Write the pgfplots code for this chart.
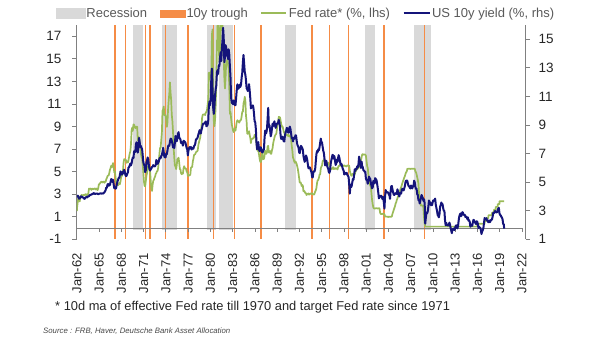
\documentclass[border=0pt]{standalone}
\usepackage{fontspec}
\setmainfont{Liberation Sans}
\usepackage{pgfplots}
\pgfplotsset{compat=1.18}
\definecolor{recgray}{HTML}{D9D9D9}
\definecolor{trough}{HTML}{F58C46}
\definecolor{fedgreen}{HTML}{9BBB59}
\definecolor{navyline}{HTML}{14147A}
\definecolor{axgray}{HTML}{808080}
\definecolor{txt}{HTML}{262626}
\definecolor{legtxt}{HTML}{595959}
\begin{document}
\begin{tikzpicture}
\path[use as bounding box] (0pt,0pt) rectangle (605pt,341pt);
\begin{axis}[
  at={(76.5pt,101.7pt)}, anchor=south west,
  scale only axis, width=449.2pt, height=214.3pt,
  xmin=1961.95, xmax=2022.5, ymin=-1, ymax=18,
  axis y line*=left, axis x line*=bottom,
  axis line style={axgray, line width=0.8pt, -},
  x axis line style={draw=none},
  xtick={1962,1965,1968,1971,1974,1977,1980,1983,1986,1989,1992,1995,1998,2001,2004,2007,2010,2013,2016,2019,2022},
  xticklabels={Jan-62,Jan-65,Jan-68,Jan-71,Jan-74,Jan-77,Jan-80,Jan-83,Jan-86,Jan-89,Jan-92,Jan-95,Jan-98,Jan-01,Jan-04,Jan-07,Jan-10,Jan-13,Jan-16,Jan-19,Jan-22},
  xtick style={draw=none},
  xticklabel style={rotate=90, anchor=east, font=\fontsize{13}{13}\selectfont, text=txt},
  xticklabel shift=6pt,
  ytick={-1,1,3,5,7,9,11,13,15,17},
  ytick style={axgray, line width=0.8pt},
  tick align=outside, major tick length=4.5pt,
  yticklabel style={font=\fontsize{13.5}{13.5}\selectfont, text=txt},
  yticklabel shift=7pt,
  /pgf/number format/assume math mode=true,
]
% recession bars
\addplot[fill=recgray, draw=none, forget plot] coordinates {(1969.50,-0.2)(1969.50,18)(1970.94,18)(1970.94,-0.2)};
\addplot[fill=recgray, draw=none, forget plot] coordinates {(1973.41,-0.2)(1973.41,18)(1975.52,18)(1975.52,-0.2)};
\addplot[fill=recgray, draw=none, forget plot] coordinates {(1979.56,-0.2)(1979.56,18)(1980.82,18)(1980.82,-0.2)};
\addplot[fill=recgray, draw=none, forget plot] coordinates {(1981.14,-0.2)(1981.14,18)(1983.07,18)(1983.07,-0.2)};
\addplot[fill=recgray, draw=none, forget plot] coordinates {(1990.11,-0.2)(1990.11,18)(1991.59,18)(1991.59,-0.2)};
\addplot[fill=recgray, draw=none, forget plot] coordinates {(2000.80,-0.2)(2000.80,18)(2002.24,18)(2002.24,-0.2)};
\addplot[fill=recgray, draw=none, forget plot] coordinates {(2007.49,-0.2)(2007.49,18)(2009.74,18)(2009.74,-0.2)};
% 10y troughs
\addplot[trough, line width=1.3pt, ycomb, mark=none, forget plot] coordinates {(1967.12,18)(1968.51,18)(1971.21,18)(1971.84,18)(1973.90,18)(1976.96,18)(1980.37,18)(1983.25,18)(1986.80,18)(1993.71,18)(1996.04,18)(1998.66,18)(2003.38,18)(2008.89,18)};
\addplot[trough, line width=1.3pt, ycomb, mark=none, forget plot] coordinates {(1967.12,-1)(1968.51,-1)(1971.21,-1)(1971.84,-1)(1973.90,-1)(1976.96,-1)(1980.37,-1)(1983.25,-1)(1986.80,-1)(1993.71,-1)(1996.04,-1)(1998.66,-1)(2003.38,-1)(2008.89,-1)};
% zero line and its ticks
\addplot[axgray, line width=0.8pt, mark=none, forget plot] coordinates {(1962,0)(2022,0)};
\addplot[axgray, line width=0.8pt, ycomb, mark=none, forget plot] coordinates {(1965,-0.33)(1968,-0.33)(1971,-0.33)(1974,-0.33)(1977,-0.33)(1980,-0.33)(1983,-0.33)(1986,-0.33)(1989,-0.33)(1992,-0.33)(1995,-0.33)(1998,-0.33)(2001,-0.33)(2004,-0.33)(2007,-0.33)(2010,-0.33)(2013,-0.33)(2016,-0.33)(2019,-0.33)(2022,-0.33)};
% Fed rate (lhs)
\addplot[fedgreen, line width=1.7pt, mark=none, line join=round, forget plot] coordinates {
(1962.00,1.50)(1962.04,1.90)(1962.13,2.37)(1962.21,2.85)(1962.29,2.78)(1962.38,2.36)(1962.46,2.68)(1962.54,2.71)(1962.63,2.93)(1962.71,2.90)(1962.79,2.90)(1962.88,2.94)(1962.96,2.93)
(1963.04,2.92)(1963.13,3.00)(1963.21,2.98)(1963.29,2.90)(1963.38,3.00)(1963.46,2.99)(1963.54,3.02)(1963.63,3.49)(1963.71,3.48)(1963.79,3.50)(1963.88,3.48)(1963.96,3.38)
(1964.04,3.48)(1964.13,3.48)(1964.21,3.43)(1964.29,3.47)(1964.38,3.50)(1964.46,3.50)(1964.54,3.42)(1964.63,3.50)(1964.71,3.45)(1964.79,3.36)(1964.88,3.52)(1964.96,3.85)
(1965.04,3.90)(1965.13,3.98)(1965.21,4.04)(1965.29,4.09)(1965.38,4.10)(1965.46,4.04)(1965.54,4.09)(1965.63,4.12)(1965.71,4.01)(1965.79,4.08)(1965.88,4.10)(1965.96,4.32)
(1966.04,4.42)(1966.13,4.60)(1966.21,4.65)(1966.29,4.67)(1966.38,4.90)(1966.46,5.17)(1966.54,5.30)(1966.63,5.53)(1966.71,5.40)(1966.79,5.53)(1966.88,5.76)(1966.96,5.40)
(1967.04,4.94)(1967.13,5.00)(1967.21,4.53)(1967.29,4.05)(1967.38,3.94)(1967.46,3.98)(1967.54,3.79)(1967.63,3.90)(1967.71,3.99)(1967.79,3.88)(1967.88,4.13)(1967.96,4.51)
(1968.04,4.61)(1968.13,4.71)(1968.21,5.05)(1968.29,5.76)(1968.38,6.11)(1968.46,6.07)(1968.54,6.02)(1968.63,6.03)(1968.71,5.78)(1968.79,5.91)(1968.88,5.82)(1968.96,6.02)
(1969.04,6.30)(1969.13,6.64)(1969.21,6.79)(1969.29,7.41)(1969.38,8.67)(1969.46,8.90)(1969.54,8.61)(1969.63,9.19)(1969.71,9.15)(1969.79,9.00)(1969.88,8.85)(1969.96,8.97)
(1970.04,8.98)(1970.13,8.98)(1970.21,7.76)(1970.29,8.10)(1970.38,7.95)(1970.46,7.61)(1970.54,7.21)(1970.63,6.61)(1970.71,6.29)(1970.79,6.20)(1970.88,5.60)(1970.96,4.90)
(1971.04,4.14)(1971.13,3.72)(1971.21,3.71)(1971.29,4.15)(1971.38,4.63)(1971.46,4.91)(1971.54,5.31)(1971.63,5.56)(1971.71,5.55)(1971.79,5.20)(1971.88,4.91)(1971.96,4.14)
(1972.04,3.50)(1972.13,3.29)(1972.21,3.83)(1972.29,4.17)(1972.38,4.27)(1972.46,4.46)(1972.54,4.55)(1972.63,4.80)(1972.71,4.87)(1972.79,5.04)(1972.88,5.06)(1972.96,5.33)
(1973.04,5.94)(1973.13,6.58)(1973.21,7.09)(1973.29,7.12)(1973.38,7.84)(1973.46,8.49)(1973.54,10.40)(1973.63,10.50)(1973.71,10.78)(1973.79,10.01)(1973.88,10.03)(1973.96,9.95)
(1974.04,9.65)(1974.13,8.97)(1974.21,9.35)(1974.29,10.51)(1974.38,11.31)(1974.46,11.93)(1974.54,12.92)(1974.63,12.01)(1974.71,11.34)(1974.79,10.06)(1974.88,9.45)(1974.96,8.53)
(1975.04,7.13)(1975.13,6.24)(1975.21,5.54)(1975.29,5.49)(1975.38,5.22)(1975.46,5.55)(1975.54,6.10)(1975.63,6.14)(1975.71,6.24)(1975.79,5.82)(1975.88,5.22)(1975.96,5.20)
(1976.04,4.87)(1976.13,4.77)(1976.21,4.84)(1976.29,4.82)(1976.38,5.29)(1976.46,5.48)(1976.54,5.31)(1976.63,5.29)(1976.71,5.25)(1976.79,5.03)(1976.88,4.95)(1976.96,4.65)
(1977.04,4.61)(1977.13,4.68)(1977.21,4.69)(1977.29,4.73)(1977.38,5.35)(1977.46,5.39)(1977.54,5.42)(1977.63,5.90)(1977.71,6.14)(1977.79,6.47)(1977.88,6.51)(1977.96,6.56)
(1978.04,6.70)(1978.13,6.78)(1978.21,6.79)(1978.29,6.89)(1978.38,7.36)(1978.46,7.60)(1978.54,7.81)(1978.63,8.04)(1978.71,8.45)(1978.79,8.96)(1978.88,9.76)(1978.96,10.03)
(1979.04,10.07)(1979.13,10.06)(1979.21,10.09)(1979.29,10.01)(1979.38,10.24)(1979.46,10.29)(1979.54,10.47)(1979.63,10.94)(1979.71,11.43)(1979.79,13.77)(1979.88,13.18)(1979.96,13.78)
(1980.04,13.82)(1980.13,14.13)(1980.21,17.19)(1980.29,17.61)(1980.38,10.98)(1980.46,9.47)(1980.54,9.03)(1980.63,9.61)(1980.71,10.87)(1980.79,12.81)(1980.88,15.85)(1980.96,18.90)
(1981.04,19.08)(1981.13,15.93)(1981.21,14.70)(1981.29,15.72)(1981.38,18.52)(1981.46,19.10)(1981.54,19.04)(1981.63,17.82)(1981.71,15.87)(1981.79,15.08)(1981.88,13.31)(1981.96,12.37)
(1982.04,13.22)(1982.13,14.78)(1982.21,14.68)(1982.29,14.94)(1982.38,14.45)(1982.46,14.15)(1982.54,12.59)(1982.63,10.12)(1982.71,10.31)(1982.79,9.71)(1982.88,9.20)(1982.96,8.95)
(1983.04,8.68)(1983.13,8.51)(1983.21,8.77)(1983.29,8.80)(1983.38,8.63)(1983.46,8.98)(1983.54,9.37)(1983.63,9.56)(1983.71,9.45)(1983.79,9.48)(1983.88,9.34)(1983.96,9.47)
(1984.04,9.56)(1984.13,9.59)(1984.21,9.91)(1984.29,10.29)(1984.38,10.32)(1984.46,11.06)(1984.54,11.23)(1984.63,11.64)(1984.71,11.30)(1984.79,9.99)(1984.88,9.43)(1984.96,8.38)
(1985.04,8.35)(1985.13,8.50)(1985.21,8.58)(1985.29,8.27)(1985.38,7.97)(1985.46,7.53)(1985.54,7.88)(1985.63,7.90)(1985.71,7.92)(1985.79,7.99)(1985.88,8.05)(1985.96,8.27)
(1986.04,8.14)(1986.13,7.86)(1986.21,7.48)(1986.29,6.99)(1986.38,6.85)(1986.46,6.92)(1986.54,6.56)(1986.63,6.17)(1986.71,5.89)(1986.79,5.85)(1986.88,6.04)(1986.96,6.91)
(1987.04,6.43)(1987.13,6.10)(1987.21,6.13)(1987.29,6.37)(1987.38,6.85)(1987.46,6.73)(1987.54,6.58)(1987.63,6.73)(1987.71,7.22)(1987.79,7.29)(1987.88,6.69)(1987.96,6.77)
(1988.04,6.83)(1988.13,6.58)(1988.21,6.58)(1988.29,6.87)(1988.38,7.09)(1988.46,7.51)(1988.54,7.75)(1988.63,8.01)(1988.71,8.19)(1988.79,8.30)(1988.88,8.35)(1988.96,8.76)
(1989.04,9.12)(1989.13,9.36)(1989.21,9.85)(1989.29,9.84)(1989.38,9.81)(1989.46,9.53)(1989.54,9.24)(1989.63,8.99)(1989.71,9.02)(1989.79,8.84)(1989.88,8.55)(1989.96,8.45)
(1990.04,8.23)(1990.13,8.24)(1990.21,8.28)(1990.29,8.26)(1990.38,8.18)(1990.46,8.29)(1990.54,8.15)(1990.63,8.13)(1990.71,8.20)(1990.79,8.11)(1990.88,7.81)(1990.96,7.31)
(1991.04,6.91)(1991.13,6.25)(1991.21,6.12)(1991.29,5.91)(1991.38,5.78)(1991.46,5.90)(1991.54,5.82)(1991.63,5.66)(1991.71,5.45)(1991.79,5.21)(1991.88,4.81)(1991.96,4.43)
(1992.04,4.03)(1992.13,4.06)(1992.21,3.98)(1992.29,3.73)(1992.38,3.82)(1992.46,3.76)(1992.54,3.25)(1992.63,3.30)(1992.71,3.22)(1992.79,3.10)(1992.88,3.09)(1992.96,2.92)
(1993.04,3.02)(1993.13,3.03)(1993.21,3.07)(1993.29,2.96)(1993.38,3.00)(1993.46,3.04)(1993.54,3.06)(1993.63,3.03)(1993.71,3.09)(1993.79,2.99)(1993.88,3.02)(1993.96,2.96)
(1994.04,3.05)(1994.13,3.25)(1994.21,3.34)(1994.29,3.56)(1994.38,4.01)(1994.46,4.25)(1994.54,4.26)(1994.63,4.47)(1994.71,4.73)(1994.79,4.76)(1994.88,5.29)(1994.96,5.45)
(1995.04,5.53)(1995.13,5.92)(1995.21,5.98)(1995.29,6.05)(1995.38,6.01)(1995.46,6.00)(1995.54,5.85)(1995.63,5.74)(1995.71,5.80)(1995.79,5.76)(1995.88,5.80)(1995.96,5.60)
(1996.04,5.56)(1996.13,5.22)(1996.21,5.31)(1996.29,5.22)(1996.38,5.24)(1996.46,5.27)(1996.54,5.40)(1996.63,5.22)(1996.71,5.30)(1996.79,5.24)(1996.88,5.31)(1996.96,5.29)
(1997.04,5.25)(1997.13,5.19)(1997.21,5.39)(1997.29,5.51)(1997.38,5.50)(1997.46,5.56)(1997.54,5.52)(1997.63,5.54)(1997.71,5.54)(1997.79,5.50)(1997.88,5.52)(1997.96,5.50)
(1998.04,5.56)(1998.13,5.51)(1998.21,5.49)(1998.29,5.45)(1998.38,5.49)(1998.46,5.56)(1998.54,5.54)(1998.63,5.55)(1998.71,5.51)(1998.79,5.07)(1998.88,4.83)(1998.96,4.68)
(1999.04,4.63)(1999.13,4.76)(1999.21,4.81)(1999.29,4.74)(1999.38,4.74)(1999.46,4.76)(1999.54,4.99)(1999.63,5.07)(1999.71,5.22)(1999.79,5.20)(1999.88,5.42)(1999.96,5.30)
(2000.04,5.45)(2000.13,5.73)(2000.21,5.85)(2000.29,6.02)(2000.38,6.27)(2000.46,6.53)(2000.54,6.54)(2000.63,6.50)(2000.71,6.52)(2000.79,6.51)(2000.88,6.51)(2000.96,6.40)
(2001.04,5.98)(2001.13,5.49)(2001.21,5.31)(2001.29,4.80)(2001.38,4.21)(2001.46,3.97)(2001.54,3.77)(2001.63,3.65)(2001.71,3.07)(2001.79,2.49)(2001.88,2.09)(2001.96,1.82)
(2002.04,1.73)(2002.13,1.74)(2002.21,1.73)(2002.29,1.75)(2002.38,1.75)(2002.46,1.75)(2002.54,1.73)(2002.63,1.74)(2002.71,1.75)(2002.79,1.75)(2002.88,1.34)(2002.96,1.24)
(2003.04,1.24)(2003.13,1.26)(2003.21,1.25)(2003.29,1.26)(2003.38,1.26)(2003.46,1.22)(2003.54,1.01)(2003.63,1.03)(2003.71,1.01)(2003.79,1.01)(2003.88,1.00)(2003.96,0.98)
(2004.04,1.00)(2004.13,1.01)(2004.21,1.00)(2004.29,1.00)(2004.38,1.00)(2004.46,1.03)(2004.54,1.26)(2004.63,1.43)(2004.71,1.61)(2004.79,1.76)(2004.88,1.93)(2004.96,2.16)
(2005.04,2.28)(2005.13,2.50)(2005.21,2.63)(2005.29,2.79)(2005.38,3.00)(2005.46,3.04)(2005.54,3.26)(2005.63,3.50)(2005.71,3.62)(2005.79,3.78)(2005.88,4.00)(2005.96,4.16)
(2006.04,4.29)(2006.13,4.49)(2006.21,4.59)(2006.29,4.79)(2006.38,4.94)(2006.46,4.99)(2006.54,5.24)(2006.63,5.25)(2006.71,5.25)(2006.79,5.25)(2006.88,5.25)(2006.96,5.24)
(2007.04,5.25)(2007.13,5.26)(2007.21,5.26)(2007.29,5.25)(2007.38,5.25)(2007.46,5.25)(2007.54,5.26)(2007.63,5.02)(2007.71,4.94)(2007.79,4.76)(2007.88,4.49)(2007.96,4.24)
(2008.04,3.94)(2008.13,2.98)(2008.21,2.61)(2008.29,2.28)(2008.38,1.98)(2008.46,2.00)(2008.54,2.01)(2008.63,2.00)(2008.71,1.81)(2008.79,0.97)(2008.88,0.39)(2008.96,0.16)
(2009.00,0.125)(2015.96,0.125)(2015.97,0.375)(2016.96,0.375)(2016.97,0.625)(2017.20,0.625)(2017.21,0.875)(2017.46,0.875)(2017.47,1.125)(2017.96,1.125)(2017.97,1.375)(2018.21,1.375)(2018.22,1.625)(2018.46,1.625)(2018.47,1.875)(2018.73,1.875)(2018.74,2.125)(2018.96,2.125)(2018.97,2.375)(2019.58,2.375)
};
\end{axis}
\begin{axis}[
  at={(76.5pt,101.7pt)}, anchor=south west,
  scale only axis, width=449.2pt, height=214.3pt,
  xmin=1961.95, xmax=2022.5, ymin=1, ymax=16,
  axis y line*=right, axis x line=none,
  axis line style={axgray, line width=0.8pt, -},
  ytick={1,3,5,7,9,11,13,15},
  ytick style={axgray, line width=0.8pt},
  tick align=outside, major tick length=4.5pt,
  yticklabel style={font=\fontsize{13.5}{13.5}\selectfont, text=txt},
  yticklabel shift=5pt,
  /pgf/number format/assume math mode=true,
  legend columns=4,
  legend cell align=left,
  legend style={at={(axis description cs:0.51,1)}, anchor=south, yshift=5pt,
    draw=none, fill=none, inner sep=0pt,
    font=\fontsize{13}{13}\selectfont, text=legtxt,
    nodes={inner xsep=1.5pt, inner ysep=1pt},
    /tikz/every even column/.append style={column sep=11pt}},
]
\addlegendimage{legend image code/.code={\fill[recgray] (0pt,-5pt) rectangle (29pt,5pt);}}
\addlegendentry{Recession}
\addlegendimage{legend image code/.code={\fill[trough] (0pt,-3.5pt) rectangle (25pt,3.5pt);}}
\addlegendentry{10y trough}
\addlegendimage{legend image code/.code={\draw[fedgreen, line width=2pt] (0pt,0pt) -- (25pt,0pt);}}
\addlegendentry{Fed rate* (\%, lhs)}
\addlegendimage{legend image code/.code={\draw[navyline, line width=2pt] (0pt,0pt) -- (26pt,0pt);}}
\addlegendentry{US 10y yield (\%, rhs)}
% US 10y yield (rhs)
\addplot[navyline, line width=2pt, mark=none, line join=round, forget plot] coordinates {
(1962.04,4.08)(1962.13,4.04)(1962.21,3.93)(1962.29,3.84)(1962.38,3.87)(1962.46,3.91)(1962.54,4.01)(1962.63,3.98)(1962.71,3.98)(1962.79,3.93)(1962.88,3.92)(1962.96,3.86)
(1963.04,3.83)(1963.13,3.92)(1963.21,3.93)(1963.29,3.97)(1963.38,3.93)(1963.46,3.99)(1963.54,4.02)(1963.63,4.00)(1963.71,4.08)(1963.79,4.11)(1963.88,4.12)(1963.96,4.13)
(1964.04,4.17)(1964.13,4.15)(1964.21,4.22)(1964.29,4.23)(1964.38,4.20)(1964.46,4.17)(1964.54,4.19)(1964.63,4.19)(1964.71,4.20)(1964.79,4.19)(1964.88,4.15)(1964.96,4.18)
(1965.04,4.19)(1965.13,4.21)(1965.21,4.21)(1965.29,4.20)(1965.38,4.21)(1965.46,4.21)(1965.54,4.20)(1965.63,4.25)(1965.71,4.29)(1965.79,4.35)(1965.88,4.45)(1965.96,4.62)
(1966.04,4.61)(1966.13,4.83)(1966.21,4.87)(1966.29,4.75)(1966.38,4.78)(1966.46,4.81)(1966.54,5.02)(1966.63,5.22)(1966.71,5.18)(1966.79,5.01)(1966.88,5.16)(1966.96,4.84)
(1967.04,4.58)(1967.13,4.63)(1967.21,4.54)(1967.29,4.59)(1967.38,4.85)(1967.46,5.02)(1967.54,5.16)(1967.63,5.28)(1967.71,5.30)(1967.79,5.48)(1967.88,5.75)(1967.96,5.70)
(1968.04,5.53)(1968.13,5.56)(1968.21,5.74)(1968.29,5.64)(1968.38,5.87)(1968.46,5.72)(1968.54,5.50)(1968.63,5.42)(1968.71,5.46)(1968.79,5.58)(1968.88,5.70)(1968.96,6.03)
(1969.04,6.04)(1969.13,6.19)(1969.21,6.30)(1969.29,6.17)(1969.38,6.32)(1969.46,6.57)(1969.54,6.72)(1969.63,6.69)(1969.71,7.16)(1969.79,7.10)(1969.88,7.14)(1969.96,7.65)
(1970.04,7.79)(1970.13,7.24)(1970.21,7.07)(1970.29,7.39)(1970.38,8.10)(1970.46,7.84)(1970.54,7.46)(1970.63,7.53)(1970.71,7.39)(1970.79,7.33)(1970.88,6.84)(1970.96,6.39)
(1971.04,6.24)(1971.13,6.11)(1971.21,5.70)(1971.29,5.83)(1971.38,6.39)(1971.46,6.52)(1971.54,6.73)(1971.63,6.58)(1971.71,6.14)(1971.79,5.93)(1971.88,5.81)(1971.96,5.93)
(1972.04,5.95)(1972.13,6.08)(1972.21,6.07)(1972.29,6.19)(1972.38,6.13)(1972.46,6.11)(1972.54,6.11)(1972.63,6.21)(1972.71,6.55)(1972.79,6.48)(1972.88,6.28)(1972.96,6.36)
(1973.04,6.46)(1973.13,6.64)(1973.21,6.71)(1973.29,6.67)(1973.38,6.85)(1973.46,6.90)(1973.54,7.13)(1973.63,7.40)(1973.71,7.09)(1973.79,6.79)(1973.88,6.73)(1973.96,6.74)
(1974.04,6.99)(1974.13,6.96)(1974.21,7.21)(1974.29,7.51)(1974.38,7.58)(1974.46,7.54)(1974.54,7.81)(1974.63,8.04)(1974.71,8.04)(1974.79,7.90)(1974.88,7.68)(1974.96,7.43)
(1975.04,7.50)(1975.13,7.39)(1975.21,7.73)(1975.29,8.23)(1975.38,8.06)(1975.46,7.86)(1975.54,8.06)(1975.63,8.40)(1975.71,8.50)(1975.79,8.14)(1975.88,8.05)(1975.96,8.00)
(1976.04,7.74)(1976.13,7.79)(1976.21,7.73)(1976.29,7.56)(1976.38,7.90)(1976.46,7.86)(1976.54,7.83)(1976.63,7.77)(1976.71,7.59)(1976.79,7.41)(1976.88,7.29)(1976.96,6.87)
(1977.04,7.21)(1977.13,7.39)(1977.21,7.46)(1977.29,7.37)(1977.38,7.46)(1977.46,7.28)(1977.54,7.33)(1977.63,7.40)(1977.71,7.34)(1977.79,7.52)(1977.88,7.58)(1977.96,7.69)
(1978.04,7.96)(1978.13,8.03)(1978.21,8.04)(1978.29,8.15)(1978.38,8.35)(1978.46,8.46)(1978.54,8.64)(1978.63,8.41)(1978.71,8.42)(1978.79,8.64)(1978.88,8.81)(1978.96,9.01)
(1979.04,9.10)(1979.13,9.10)(1979.21,9.12)(1979.29,9.18)(1979.38,9.25)(1979.46,8.91)(1979.54,8.95)(1979.63,9.03)(1979.71,9.33)(1979.79,10.30)(1979.88,10.65)(1979.96,10.39)
(1980.04,10.80)(1980.13,12.41)(1980.21,12.95)(1980.29,11.47)(1980.38,10.18)(1980.46,9.78)(1980.54,10.25)(1980.63,11.10)(1980.71,11.51)(1980.79,11.75)(1980.88,12.68)(1980.96,12.84)
(1981.04,12.57)(1981.13,13.19)(1981.21,13.12)(1981.29,13.68)(1981.38,14.10)(1981.46,13.47)(1981.54,14.28)(1981.63,14.94)(1981.71,15.80)(1981.79,15.15)(1981.88,13.39)(1981.96,13.72)
(1982.04,14.59)(1982.13,14.43)(1982.21,13.86)(1982.29,13.87)(1982.38,13.62)(1982.46,14.30)(1982.54,13.95)(1982.63,13.06)(1982.71,12.34)(1982.79,10.91)(1982.88,10.55)(1982.96,10.54)
(1983.04,10.46)(1983.13,10.72)(1983.21,10.51)(1983.29,10.40)(1983.38,10.38)(1983.46,10.85)(1983.54,11.38)(1983.63,11.85)(1983.71,11.65)(1983.79,11.54)(1983.88,11.69)(1983.96,11.83)
(1984.04,11.67)(1984.13,11.84)(1984.21,12.32)(1984.29,12.63)(1984.38,13.41)(1984.46,13.90)(1984.54,13.36)(1984.63,12.72)(1984.71,12.52)(1984.79,12.16)(1984.88,11.57)(1984.96,11.50)
(1985.04,11.38)(1985.13,11.51)(1985.21,11.86)(1985.29,11.43)(1985.38,10.85)(1985.46,10.16)(1985.54,10.31)(1985.63,10.33)(1985.71,10.37)(1985.79,10.24)(1985.88,9.78)(1985.96,9.26)
(1986.04,9.19)(1986.13,8.70)(1986.21,7.78)(1986.29,7.30)(1986.38,7.71)(1986.46,7.80)(1986.54,7.30)(1986.63,7.17)(1986.71,7.45)(1986.79,7.43)(1986.88,7.25)(1986.96,7.11)
(1987.04,7.08)(1987.13,7.25)(1987.21,7.25)(1987.29,8.02)(1987.38,8.61)(1987.46,8.40)(1987.54,8.45)(1987.63,8.76)(1987.71,9.42)(1987.79,10.20)(1987.88,8.86)(1987.96,8.99)
(1988.04,8.67)(1988.13,8.21)(1988.21,8.37)(1988.29,8.72)(1988.38,9.09)(1988.46,8.92)(1988.54,9.06)(1988.63,9.26)(1988.71,8.98)(1988.79,8.80)(1988.88,8.96)(1988.96,9.11)
(1989.04,9.09)(1989.13,9.17)(1989.21,9.36)(1989.29,9.18)(1989.38,8.86)(1989.46,8.28)(1989.54,8.02)(1989.63,8.11)(1989.71,8.19)(1989.79,8.01)(1989.88,7.87)(1989.96,7.84)
(1990.04,8.21)(1990.13,8.47)(1990.21,8.59)(1990.29,8.79)(1990.38,8.76)(1990.46,8.48)(1990.54,8.47)(1990.63,8.75)(1990.71,8.89)(1990.79,8.72)(1990.88,8.39)(1990.96,8.08)
(1991.04,8.09)(1991.13,7.85)(1991.21,8.11)(1991.29,8.04)(1991.38,8.07)(1991.46,8.28)(1991.54,8.27)(1991.63,7.90)(1991.71,7.65)(1991.79,7.53)(1991.88,7.42)(1991.96,7.09)
(1992.04,7.03)(1992.13,7.34)(1992.21,7.54)(1992.29,7.48)(1992.38,7.39)(1992.46,7.26)(1992.54,6.84)(1992.63,6.59)(1992.71,6.42)(1992.79,6.59)(1992.88,6.87)(1992.96,6.77)
(1993.04,6.60)(1993.13,6.26)(1993.21,5.98)(1993.29,5.97)(1993.38,6.04)(1993.46,5.96)(1993.54,5.81)(1993.63,5.68)(1993.71,5.36)(1993.79,5.33)(1993.88,5.72)(1993.96,5.77)
(1994.04,5.75)(1994.13,5.97)(1994.21,6.48)(1994.29,6.97)(1994.38,7.18)(1994.46,7.10)(1994.54,7.30)(1994.63,7.24)(1994.71,7.46)(1994.79,7.74)(1994.88,8.05)(1994.96,7.81)
(1995.04,7.78)(1995.13,7.47)(1995.21,7.20)(1995.29,7.06)(1995.38,6.63)(1995.46,6.17)(1995.54,6.28)(1995.63,6.49)(1995.71,6.20)(1995.79,6.04)(1995.88,5.93)(1995.96,5.71)
(1996.04,5.65)(1996.13,5.81)(1996.21,6.27)(1996.29,6.51)(1996.38,6.74)(1996.46,6.91)(1996.54,6.87)(1996.63,6.64)(1996.71,6.83)(1996.79,6.53)(1996.88,6.20)(1996.96,6.30)
(1997.04,6.58)(1997.13,6.42)(1997.21,6.69)(1997.29,6.89)(1997.38,6.71)(1997.46,6.49)(1997.54,6.22)(1997.63,6.30)(1997.71,6.21)(1997.79,6.03)(1997.88,5.88)(1997.96,5.81)
(1998.04,5.54)(1998.13,5.57)(1998.21,5.65)(1998.29,5.64)(1998.38,5.65)(1998.46,5.50)(1998.54,5.46)(1998.63,5.34)(1998.71,4.81)(1998.79,4.20)(1998.88,4.83)(1998.96,4.65)
(1999.04,4.72)(1999.13,5.00)(1999.21,5.23)(1999.29,5.18)(1999.38,5.54)(1999.46,5.90)(1999.54,5.79)(1999.63,5.94)(1999.71,5.92)(1999.79,6.11)(1999.88,6.03)(1999.96,6.28)
(2000.04,6.79)(2000.13,6.52)(2000.21,6.26)(2000.29,5.99)(2000.38,6.44)(2000.46,6.10)(2000.54,6.05)(2000.63,5.83)(2000.71,5.80)(2000.79,5.74)(2000.88,5.72)(2000.96,5.24)
(2001.04,5.16)(2001.13,5.10)(2001.21,4.89)(2001.29,5.14)(2001.38,5.39)(2001.46,5.28)(2001.54,5.24)(2001.63,4.97)(2001.71,4.73)(2001.79,4.57)(2001.88,4.65)(2001.96,5.09)
(2002.04,5.04)(2002.13,4.91)(2002.21,5.28)(2002.29,5.21)(2002.38,5.16)(2002.46,4.93)(2002.54,4.65)(2002.63,4.26)(2002.71,3.87)(2002.79,3.94)(2002.88,4.05)(2002.96,4.03)
(2003.04,4.05)(2003.13,3.90)(2003.21,3.81)(2003.29,3.96)(2003.38,3.57)(2003.46,3.15)(2003.54,3.98)(2003.63,4.45)(2003.71,4.27)(2003.79,4.29)(2003.88,4.30)(2003.96,4.27)
(2004.04,4.15)(2004.13,4.08)(2004.21,3.83)(2004.29,4.35)(2004.38,4.72)(2004.46,4.73)(2004.54,4.50)(2004.63,4.28)(2004.71,4.13)(2004.79,4.10)(2004.88,4.19)(2004.96,4.23)
(2005.04,4.22)(2005.13,4.17)(2005.21,4.50)(2005.29,4.34)(2005.38,4.14)(2005.46,4.00)(2005.54,4.18)(2005.63,4.26)(2005.71,4.20)(2005.79,4.46)(2005.88,4.54)(2005.96,4.47)
(2006.04,4.42)(2006.13,4.57)(2006.21,4.72)(2006.29,4.99)(2006.38,5.11)(2006.46,5.11)(2006.54,5.09)(2006.63,4.88)(2006.71,4.72)(2006.79,4.73)(2006.88,4.60)(2006.96,4.56)
(2007.04,4.76)(2007.13,4.72)(2007.21,4.56)(2007.29,4.69)(2007.38,4.75)(2007.46,5.10)(2007.54,5.00)(2007.63,4.67)(2007.71,4.52)(2007.79,4.53)(2007.88,4.15)(2007.96,4.10)
(2008.04,3.74)(2008.13,3.74)(2008.21,3.51)(2008.29,3.68)(2008.38,3.88)(2008.46,4.10)(2008.54,4.01)(2008.63,3.89)(2008.71,3.69)(2008.79,3.81)(2008.88,3.53)(2008.96,2.10)
(2009.04,2.52)(2009.13,2.87)(2009.21,2.82)(2009.29,2.93)(2009.38,3.29)(2009.46,3.72)(2009.54,3.56)(2009.63,3.59)(2009.71,3.40)(2009.79,3.39)(2009.88,3.40)(2009.96,3.59)
(2010.04,3.73)(2010.13,3.69)(2010.21,3.73)(2010.29,3.85)(2010.38,3.42)(2010.46,3.20)(2010.54,3.01)(2010.63,2.70)(2010.71,2.65)(2010.79,2.54)(2010.88,2.76)(2010.96,3.29)
(2011.04,3.39)(2011.13,3.58)(2011.21,3.41)(2011.29,3.46)(2011.38,3.17)(2011.46,3.00)(2011.54,3.00)(2011.63,2.30)(2011.71,1.98)(2011.79,2.15)(2011.88,2.01)(2011.96,1.98)
(2012.04,1.97)(2012.13,1.97)(2012.21,2.17)(2012.29,2.05)(2012.38,1.80)(2012.46,1.62)(2012.54,1.43)(2012.63,1.68)(2012.71,1.72)(2012.79,1.75)(2012.88,1.65)(2012.96,1.72)
(2013.04,1.91)(2013.13,1.98)(2013.21,1.96)(2013.29,1.76)(2013.38,1.93)(2013.46,2.30)(2013.54,2.58)(2013.63,2.74)(2013.71,2.81)(2013.79,2.62)(2013.88,2.72)(2013.96,2.90)
(2014.04,2.86)(2014.13,2.71)(2014.21,2.72)(2014.29,2.71)(2014.38,2.56)(2014.46,2.60)(2014.54,2.54)(2014.63,2.42)(2014.71,2.53)(2014.79,2.30)(2014.88,2.33)(2014.96,2.21)
(2015.04,1.88)(2015.13,1.98)(2015.21,2.04)(2015.29,1.94)(2015.38,2.20)(2015.46,2.36)(2015.54,2.32)(2015.63,2.17)(2015.71,2.17)(2015.79,2.07)(2015.88,2.26)(2015.96,2.24)
(2016.04,2.09)(2016.13,1.78)(2016.21,1.89)(2016.29,1.81)(2016.38,1.81)(2016.46,1.64)(2016.54,1.37)(2016.63,1.56)(2016.71,1.63)(2016.79,1.76)(2016.88,2.14)(2016.96,2.49)
(2017.04,2.43)(2017.13,2.42)(2017.21,2.48)(2017.29,2.30)(2017.38,2.30)(2017.46,2.19)(2017.54,2.32)(2017.63,2.21)(2017.71,2.20)(2017.79,2.36)(2017.88,2.35)(2017.96,2.40)
(2018.04,2.58)(2018.13,2.86)(2018.21,2.84)(2018.29,2.87)(2018.38,2.98)(2018.46,2.91)(2018.54,2.89)(2018.63,2.89)(2018.71,3.00)(2018.79,3.15)(2018.88,3.20)(2018.96,2.83)
(2019.04,2.71)(2019.13,2.68)(2019.21,2.57)(2019.29,2.53)(2019.38,2.40)(2019.46,2.07)(2019.54,2.06)(2019.60,1.75)
};
\end{axis}
\node[anchor=base west, inner sep=0pt, font=\fontsize{12.85}{14}\selectfont, text=txt] at (55pt,30.3pt) {* 10d ma of effective Fed rate till 1970 and target Fed rate since 1971};
\node[anchor=base west, inner sep=0pt, font=\itshape\fontsize{7.8}{9}\selectfont, text=txt!85] at (43pt,8pt) {Source : FRB, Haver, Deutsche Bank Asset Allocation};
\end{tikzpicture}
\end{document}
